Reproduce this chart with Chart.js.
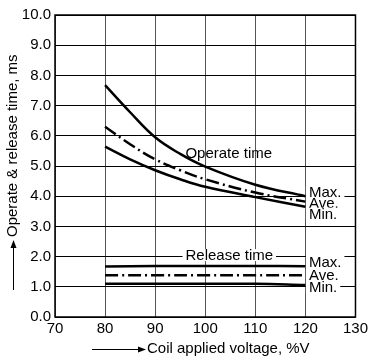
<!DOCTYPE html>
<html>
<head>
<meta charset="utf-8">
<script src="https://cdn.jsdelivr.net/npm/chart.js@4"></script>
<style>
  body { margin: 0; background: #fff; }
  #wrap { width: 371px; height: 360px; }
</style>
</head>
<body>
<div id="wrap"><canvas id="relayChart" width="371" height="360"></canvas></div>
<script>
// coil applied voltage, %V
const voltage = [80, 85, 90, 95, 100, 110, 120];
const operateMax = [7.68, 6.78, 5.95, 5.4, 4.98, 4.38, 4.0];
const operateAve = [6.3, 5.72, 5.22, 4.86, 4.56, 4.12, 3.82];
const operateMin = [5.64, 5.22, 4.86, 4.56, 4.31, 3.97, 3.65];

const releaseVoltage = [80, 90, 100, 110, 120];
const releaseMax = [1.67, 1.69, 1.69, 1.69, 1.68];
const releaseAve = [1.38, 1.38, 1.38, 1.38, 1.38];
const releaseMin = [1.1, 1.1, 1.1, 1.1, 1.06];

const xTicks = [70, 80, 90, 100, 110, 120, 130];
const yTicks = [0, 1, 2, 3, 4, 5, 6, 7, 8, 9, 10];

const FONT = "'Liberation Sans', Arial, sans-serif";

function pts(xs, ys) {
  return xs.map(function (x, i) { return { x: x, y: ys[i] }; });
}

function series(label, xs, ys, dashed) {
  return {
    label: label,
    data: pts(xs, ys),
    borderColor: "#000",
    borderWidth: 2.5,
    borderDash: dashed ? [13, 4, 2, 4] : [],
    pointRadius: 0,
    fill: false,
    tension: 0.4
  };
}

// text labels inside the plot, white box behind where the figure breaks the grid
const notes = [
  { text: "Operate time", x: 104.7, y: 5.45, align: "center", box: false },
  { text: "Release time", x: 104.8, y: 2.05, align: "center", box: true },
  { text: "Max.", x: 120.7, y: 4.15, align: "left", box: true },
  { text: "Ave.", x: 120.7, y: 3.77, align: "left", box: true },
  { text: "Min.", x: 120.7, y: 3.42, align: "left", box: true },
  { text: "Max.", x: 120.7, y: 1.83, align: "left", box: true },
  { text: "Ave.", x: 120.7, y: 1.39, align: "left", box: true },
  { text: "Min.", x: 120.7, y: 0.99, align: "left", box: true }
];

const decorations = {
  id: "decorations",
  afterDraw: function (chart) {
    const c = chart.ctx;
    const xs = chart.scales.x, ys = chart.scales.y;
    const area = chart.chartArea;
    c.save();
    c.font = "15px " + FONT;
    c.textBaseline = "middle";

    notes.forEach(function (n) {
      const px = xs.getPixelForValue(n.x);
      const py = ys.getPixelForValue(n.y);
      const w = c.measureText(n.text).width;
      const left = n.align === "center" ? px - w / 2 : px;
      if (n.box) {
        c.fillStyle = "#fff";
        c.fillRect(left - 3, py - 6, w + 6, 12);
      }
      c.fillStyle = "#000";
      c.textAlign = "left";
      c.fillText(n.text, left, py + 1);
    });

    // frame
    c.strokeStyle = "#000";
    c.lineWidth = 1.5;
    c.strokeRect(area.left, area.top, area.right - area.left, area.bottom - area.top);

    // x title with arrow
    c.lineWidth = 1;
    c.beginPath();
    c.moveTo(92, 349.5);
    c.lineTo(140, 349.5);
    c.stroke();
    c.beginPath();
    c.moveTo(146, 349.5);
    c.lineTo(138, 346.5);
    c.lineTo(138, 352.5);
    c.closePath();
    c.fill();
    c.textAlign = "left";
    c.fillText("Coil applied voltage, %V", 147, 349);

    // y title with arrow
    c.beginPath();
    c.moveTo(13.5, 290);
    c.lineTo(13.5, 246);
    c.stroke();
    c.beginPath();
    c.moveTo(13.5, 240);
    c.lineTo(10.5, 248);
    c.lineTo(16.5, 248);
    c.closePath();
    c.fill();
    c.translate(13, 237);
    c.rotate(-Math.PI / 2);
    c.fillText("Operate & release time, ms", 0, 0);
    c.restore();
  }
};

new Chart(document.getElementById("relayChart"), {
  type: "line",
  data: {
    datasets: [
      series("Operate Max.", voltage, operateMax, false),
      series("Operate Ave.", voltage, operateAve, true),
      series("Operate Min.", voltage, operateMin, false),
      series("Release Max.", releaseVoltage, releaseMax, false),
      series("Release Ave.", releaseVoltage, releaseAve, true),
      series("Release Min.", releaseVoltage, releaseMin, false)
    ]
  },
  options: {
    responsive: false,
    animation: false,
    layout: { padding: { top: 15, right: 14, left: 0, bottom: 0 } },
    scales: {
      x: {
        type: "linear",
        min: xTicks[0],
        max: xTicks[xTicks.length - 1],
        afterBuildTicks: function (scale) {
          scale.ticks = xTicks.map(function (v) { return { value: v }; });
        },
        afterFit: function (scale) { scale.height = 43; },
        ticks: { color: "#000", font: { family: FONT, size: 15 }, padding: 3, maxRotation: 0 },
        grid: { color: "#555", lineWidth: 1, drawTicks: false },
        border: { display: false }
      },
      y: {
        min: yTicks[0],
        max: yTicks[yTicks.length - 1],
        afterBuildTicks: function (scale) {
          scale.ticks = yTicks.map(function (v) { return { value: v }; });
        },
        afterFit: function (scale) { scale.width = 55; },
        ticks: {
          color: "#000",
          font: { family: FONT, size: 15 },
          padding: 4,
          callback: function (value) { return Number(value).toFixed(1); }
        },
        grid: { color: "#000", lineWidth: 1, drawTicks: false },
        border: { display: false }
      }
    },
    plugins: {
      legend: { display: false },
      tooltip: { enabled: false }
    }
  },
  plugins: [decorations]
});
</script>
</body>
</html>
